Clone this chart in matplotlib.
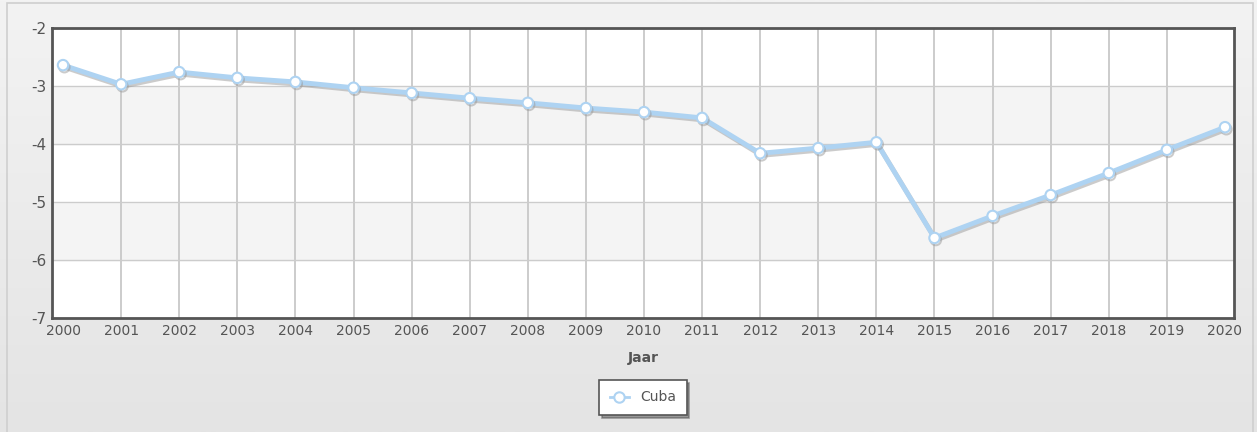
import numpy as np
import matplotlib
matplotlib.use("Agg")
import matplotlib.pyplot as plt
import matplotlib.patheffects as pe
from matplotlib.patches import Rectangle

plt.rcParams["axes.unicode_minus"] = False

# waarden
jaren = list(range(2000, 2021))
cuba = [-2.64, -2.97, -2.76, -2.86, -2.93, -3.03, -3.12, -3.21, -3.29, -3.38,
        -3.45, -3.55, -4.16, -4.07, -3.97, -5.62, -5.24, -4.88, -4.50, -4.10, -3.71]
y_ticks = [-7, -6, -5, -4, -3, -2]

W, H = 1257, 432
fig = plt.figure(figsize=(W / 100, H / 100), dpi=100)

# achtergrond met verloop
bg = fig.add_axes([0, 0, 1, 1], zorder=-10)
grad = np.linspace(0, 1, 256).reshape(-1, 1)
bg.imshow(grad, aspect="auto", cmap=matplotlib.colors.LinearSegmentedColormap.from_list(
    "g", ["#f3f3f3", "#e4e4e4"]), extent=[0, 1, 0, 1], origin="upper")
bg.add_patch(Rectangle((7 / W, -0.1), (1253 - 7) / W, 1.1 - 3 / H, fill=False,
                       edgecolor="#cfcfcf", lw=1.2))
bg.set_xlim(0, 1)
bg.set_ylim(0, 1)
bg.axis("off")

left, right, top, bottom = 52, 1234, 28, 318
ax = fig.add_axes([left / W, 1 - bottom / H, (right - left) / W, (bottom - top) / H])
step = (right - left) / (20 + 20 / 58)
ax.set_xlim(jaren[0] - 11 / 58, jaren[-1] + 9 / 58)
ax.set_ylim(-7, -2)

# afwisselende banden
for i, lo in enumerate(y_ticks[:-1]):
    kleur = "#ffffff" if i % 2 == 0 else "#f4f4f4"
    ax.axhspan(lo, lo + 1, color=kleur, zorder=0)

for j in jaren[1:-1]:
    ax.axvline(j, color="#c4c4c4", lw=1.2, zorder=1)
for t in y_ticks:
    ax.axhline(t, color="#cccccc", lw=1, zorder=1)

ax.plot(jaren, cuba, color="#aed3f2", lw=3.5, marker="o", ms=7.5,
        mfc="white", mec="#aed3f2", mew=1.5, zorder=5, label="Cuba",
        path_effects=[pe.SimpleLineShadow(offset=(1, -1.5), shadow_color="#999999", alpha=0.5),
                      pe.Normal()])

for s in ax.spines.values():
    s.set_color("#555555")
    s.set_linewidth(2)

ax.set_xticks(jaren)
ax.set_yticks(y_ticks)
ax.tick_params(length=0, colors="#555555", labelsize=10, pad=4)
ax.tick_params(axis="y", labelsize=11)
ax.set_xlabel("Jaar", fontweight="bold", color="#555555", fontsize=10, labelpad=10)

leg = ax.legend(loc="upper center", bbox_to_anchor=(0.5, -0.19), frameon=True,
                fancybox=False, shadow=True, fontsize=10, handlelength=1.4,
                borderpad=0.75, labelcolor="#555555")
leg.get_frame().set_edgecolor("#555555")
leg.get_frame().set_linewidth(1.2)
for h in leg.get_lines():
    h.set_linewidth(2)
    h.set_path_effects([])

fig.savefig("out.png", dpi=100)
